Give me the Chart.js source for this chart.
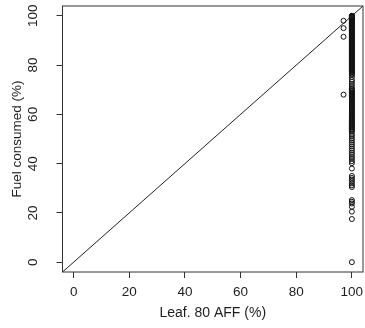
<!DOCTYPE html>
<html><head><meta charset="utf-8">
<script src="https://cdn.jsdelivr.net/npm/chart.js@4"></script>
<style>
html,body{margin:0;padding:0;overflow:hidden;background:#fff}
#wrap{position:relative;width:368px;height:328px}
</style>
</head><body>
<div id="wrap"><canvas id="c" width="368" height="328"></canvas></div>
<script>
// ---- data ----
const xTicks = [0, 20, 40, 60, 80, 100];
const yTicks = [0, 20, 40, 60, 80, 100];
const axisMin = -4, axisMax = 104;
const leafAFFGroups = [97, 100];
const fuelAt97 = [98, 95, 91.5, 68];
const fuelAt100 = [100, 100, 100, 99.8, 99.6, 99.4, 99.2, 99, 98.7, 98.5, 98.3, 98, 97.8, 97.5, 97.3, 97, 96.8,
  96.5, 96.2, 96, 95.7, 95.4, 95.1, 94.8, 94.5, 94.2, 94, 93.7, 93.4, 93.1, 92.8, 92.5, 92.2, 91.9, 91.6, 91.3,
  91, 90.7, 90.4, 90.1, 89.8, 89.5, 89.2, 88.9, 88.6, 88.3, 88, 87.7, 87.4, 87.1, 86.8, 86.5, 86.2, 85.9, 85.6,
  85.3, 85, 84.7, 84.4, 84.1, 83.8, 83.5, 83.2, 82.9, 82.6, 82.3, 82, 81.7, 81.4, 81.1, 80.8, 80.5, 80.2, 79.9,
  79.6, 79.3, 79, 78.7, 78.4, 78.1, 77.8, 77.5, 77.2, 76.8, 76.4, 76, 75.2, 74, 73.2, 72.4, 71.5, 70.6, 70.2,
  69.8, 69.4, 69, 68.6, 68.2, 67.8, 67.4, 67, 66.6, 66.2, 65.8, 65.4, 65, 64.6, 64.2, 63.8, 63.4, 63, 62.6, 62.2,
  61.8, 61.4, 61, 60.6, 60.2, 59.8, 59.4, 59, 58.6, 58.2, 57.8, 57.4, 57, 56.6, 56.2, 55.8, 55.4, 55, 54.6, 54.2,
  53.8, 53.4, 53, 52, 51.2, 50.3, 49.5, 48.6, 47.8, 47, 46.1, 45.3, 44.4, 43.6, 42.7, 41.9, 41, 40.2, 38,
  35, 34.2, 33.5, 32.8, 32, 31.2, 30.5, 25.2, 24.5, 23.8, 22.5, 20.5, 17.5, 0];

const points = [
  ...fuelAt97.map(y => ({x: leafAFFGroups[0], y})),
  ...fuelAt100.map(y => ({x: leafAFFGroups[1], y}))
];
const oneToOne = [{x: axisMin, y: axisMin}, {x: axisMax, y: axisMax}];

const FONT = '"Liberation Sans", Arial, sans-serif';
const TEXT = '#1e1e1e';
const AXIS = '#333';

const boxPlugin = {
  id: 'box',
  afterDraw(chart) {
    const {ctx, chartArea: a, scales} = chart;
    ctx.save();
    ctx.strokeStyle = AXIS;
    ctx.lineWidth = 1;
    ctx.strokeRect(a.left, a.top, a.right - a.left, a.bottom - a.top);
    ctx.font = '13.5px ' + FONT;
    ctx.fillStyle = TEXT;
    ctx.textAlign = 'center';
    ctx.textBaseline = 'middle';
    for (const v of yTicks) {
      const py = scales.y.getPixelForValue(v);
      ctx.save();
      ctx.translate(33.5, py);
      ctx.rotate(-Math.PI / 2);
      ctx.fillText(String(v), 0, 0);
      ctx.restore();
    }
    ctx.restore();
  }
};

new Chart(document.getElementById('c'), {
  type: 'scatter',
  data: {
    datasets: [
      {
        type: 'line',
        data: oneToOne,
        borderColor: '#222',
        borderWidth: 1,
        pointRadius: 0,
        fill: false
      },
      {
        type: 'scatter',
        data: points,
        pointStyle: 'circle',
        pointRadius: 2.5,
        backgroundColor: 'rgba(0,0,0,0)',
        borderColor: '#111',
        borderWidth: 1
      }
    ]
  },
  options: {
    responsive: false,
    animation: false,
    devicePixelRatio: 1,
    layout: {padding: {top: 6, right: 1.5, left: 0, bottom: 0}},
    plugins: {legend: {display: false}, tooltip: {enabled: false}},
    scales: {
      x: {
        type: 'linear', min: axisMin, max: axisMax,
        afterBuildTicks: s => { s.ticks = xTicks.map(v => ({value: v})); },
        grid: {display: true, drawOnChartArea: false, drawTicks: true, tickLength: 6, color: AXIS, tickColor: AXIS},
        border: {display: false},
        ticks: {font: {size: 13.5, family: FONT}, color: TEXT, padding: 6, maxRotation: 0, autoSkip: false},
        title: {display: true, text: 'Leaf. 80 AFF (%)', font: {size: 14, family: FONT}, color: TEXT, padding: {top: 0, bottom: 6}},
        afterFit: s => { s.height = 56; s.paddingLeft = 0; s.paddingRight = 0; }
      },
      y: {
        type: 'linear', min: axisMin, max: axisMax,
        afterBuildTicks: s => { s.ticks = yTicks.map(v => ({value: v})); },
        grid: {display: true, drawOnChartArea: false, drawTicks: true, tickLength: 6, color: AXIS, tickColor: AXIS},
        border: {display: false},
        ticks: {display: false},
        title: {display: true, text: 'Fuel consumed (%)', font: {size: 13.5, family: FONT}, color: TEXT, padding: {top: 9, bottom: 0}},
        afterFit: s => { s.width = 62.5; s.paddingTop = 0; s.paddingBottom = 0; }
      }
    }
  },
  plugins: [boxPlugin]
});
</script>
</body></html>
